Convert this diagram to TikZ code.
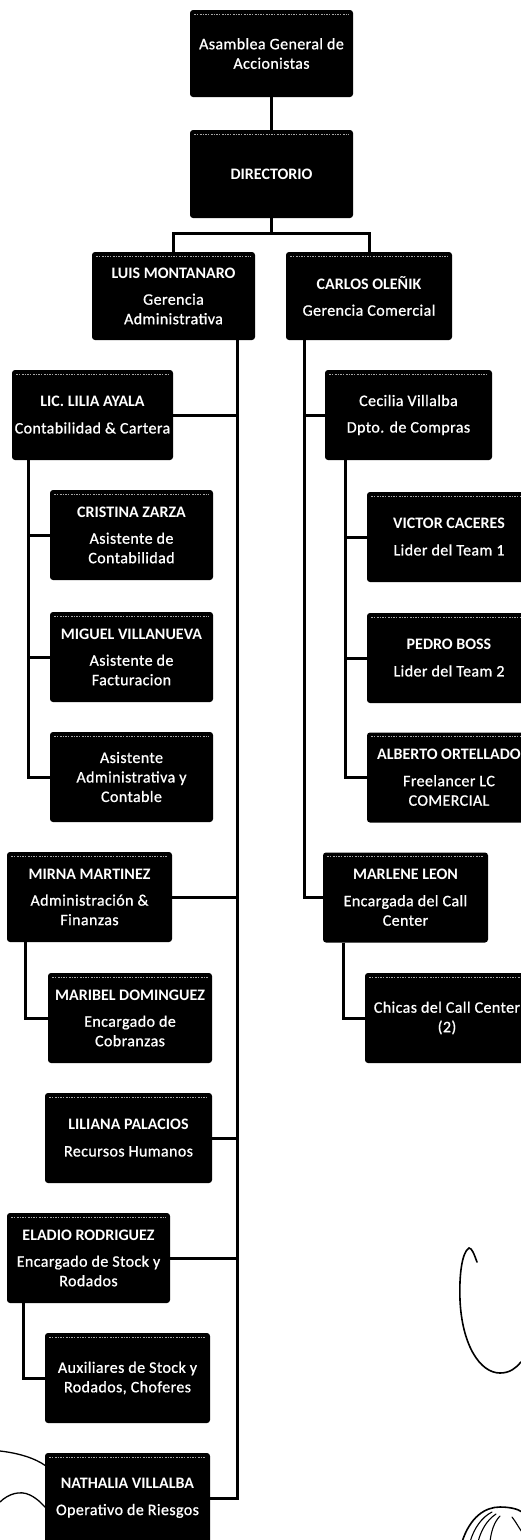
\documentclass[tikz,border=0pt]{standalone}
\usepackage{fontspec}
\setmainfont{Carlito}
\newfontfamily\thickfont{Carlito}[FakeBold=0.9,LetterSpace=2.5]
\tikzset{
  box/.style={fill=black, rounded corners=3pt, text=white, align=center,
    minimum width=164, minimum height=90, inner sep=1pt,
    font=\thickfont\fontsize{16}{19.5}\selectfont,
    path picture={\draw[gray!70, line width=0.5pt, dash pattern=on 2pt off 1pt on 1pt off 1.5pt]
      ([xshift=4pt,yshift=-4pt]path picture bounding box.north west) --
      ([xshift=-4pt,yshift=-4pt]path picture bounding box.north east);}},
  link/.style={line width=3pt, draw=black},
  scribble/.style={line width=1.6pt, draw=black, line cap=round},
}
\newcommand{\nm}[1]{{\normalfont\bfseries\fontsize{16}{19.5}\selectfont #1}\\[7pt]}
\begin{document}
\begin{tikzpicture}[x=1pt,y=-1pt]
\useasboundingbox (0,0) rectangle (521,1540);
\clip (0,0) rectangle (521,1540);
% top
\node[box, minimum width=163, minimum height=87] (asam) at (271.5,53.5) {Asamblea General de\\Accionistas};
\node[box, minimum width=163, minimum height=88] (dir) at (271.5,174) {{\normalfont\bfseries DIRECTORIO}};
\node[box, minimum width=163, minimum height=88] (luis) at (173.5,296) {\nm{LUIS MONTANARO}Gerencia\\Administrativa};
\node[box, minimum width=166, minimum height=88] (carlos) at (369,296) {\nm{CARLOS OLEÑIK}Gerencia Comercial};
% left column
\node[box, minimum width=161] (lilia) at (92.5,415) {\nm{LIC. LILIA AYALA}Contabilidad \& Cartera};
\node[box, minimum width=163] (crist) at (131.5,535) {\nm{CRISTINA ZARZA}Asistente de\\Contabilidad};
\node[box, minimum width=163] (miguel) at (131.5,657) {\nm{MIGUEL VILLANUEVA}Asistente de\\Facturacion};
\node[box, minimum width=163] (asad) at (131.5,777) {Asistente\\Administrativa y\\Contable};
\node[box, minimum width=165] (mirna) at (89.5,897) {\nm{MIRNA MARTINEZ}Administración \&\\Finanzas};
\node[box, minimum width=164] (maribel) at (130,1018) {\nm{MARIBEL DOMINGUEZ}Encargado de\\Cobranzas};
\node[box, minimum width=167] (liliana) at (128.5,1138) {\nm{LILIANA PALACIOS}Recursos Humanos};
\node[box, minimum width=163] (eladio) at (88.5,1258) {\nm{ELADIO RODRIGUEZ}Encargado de Stock y\\Rodados};
\node[box, minimum width=165] (aux) at (127.5,1378) {Auxiliares de Stock y\\Rodados, Choferes};
\node[box, minimum width=165] (nath) at (127.5,1498) {\nm{NATHALIA VILLALBA}Operativo de Riesgos};
% right column
\node[box, minimum width=167] (cecilia) at (408.5,415) {Cecilia Villalba\\[7pt]Dpto. de Compras};
\node[box, minimum width=164] (victor) at (449,537) {\nm{VICTOR CACERES}Lider del Team 1};
\node[box, minimum width=164] (pedro) at (449,658) {\nm{PEDRO BOSS}Lider del Team 2};
\node[box, minimum width=164] (alberto) at (449,777.5) {\nm{ALBERTO ORTELLADO}Freelancer LC\\COMERCIAL};
\node[box, minimum width=165] (marlene) at (405.5,897.5) {\nm{MARLENE LEON}Encargada del Call\\Center};
\node[box, minimum width=164] (chicas) at (447,1018) {Chicas del Call Center\\(2)};
% trunk coordinates
\coordinate (bus) at (271.5,233);
\coordinate (lt) at (237,0);
\coordinate (ct) at (304,0);
\coordinate (ls) at (28,0);
\coordinate (cs) at (345,0);
\coordinate (ms) at (343,0);
\coordinate (mis) at (25,0);
\coordinate (es) at (23,0);
% connectors
\draw[link] (asam) -- (dir);
\draw[link] (dir.south) -- (bus);
\draw[link] (luis.north) |- (bus) -| (carlos.north);
\draw[link] (luis.south -| lt) -- (lt |- nath.east) -- (nath.east);
\foreach \n in {lilia,mirna,liliana,eladio} \draw[link] (\n.east) -- (\n.east -| lt);
\draw[link] (carlos.south -| ct) -- (ct |- marlene.west) -- (marlene.west);
\draw[link] (cecilia.west) -- (cecilia.west -| ct);
\draw[link] (lilia.south -| ls) -- (ls |- asad.west) -- (asad.west);
\foreach \n in {crist,miguel} \draw[link] (\n.west) -- (\n.west -| ls);
\draw[link] (cecilia.south -| cs) -- (cs |- alberto.west) -- (alberto.west);
\foreach \n in {victor,pedro} \draw[link] (\n.west) -- (\n.west -| cs);
\draw[link] (marlene.south -| ms) -- (ms |- chicas.west) -- (chicas.west);
\draw[link] (mirna.south -| mis) -- (mis |- maribel.west) -- (maribel.west);
\draw[link] (eladio.south -| es) -- (es |- aux.west) -- (aux.west);
% scribbles
\draw[scribble] (477,1262) .. controls (474,1254) and (472,1248) .. (469,1248)
  .. controls (462,1252) and (459,1275) .. (460,1300)
  .. controls (462,1345) and (480,1373) .. (500,1373)
  .. controls (510,1373) and (516,1368) .. (521,1362);
\draw[scribble] (462,1542) .. controls (470,1517) and (485,1507) .. (500,1507)
  .. controls (510,1507) and (518,1509) .. (522,1512);
\draw[scribble, line width=1.1pt] (470,1542) .. controls (474,1528) and (482,1517) .. (492,1512);
\draw[scribble, line width=1.1pt] (478,1542) .. controls (481,1530) and (487,1520) .. (496,1514);
\draw[scribble, line width=1.1pt] (490,1542) .. controls (491,1532) and (494,1522) .. (500,1516);
\draw[scribble, line width=1.1pt] (512,1517) .. controls (516,1522) and (519,1528) .. (522,1532);
\draw[scribble, line width=1.3pt] (0,1451) .. controls (18,1453) and (35,1458) .. (46,1466);
\draw[scribble, line width=1.3pt] (0,1502) .. controls (8,1494) and (20,1490) .. (30,1495)
  .. controls (38,1499) and (42,1504) .. (46,1508);
\end{tikzpicture}
\end{document}
